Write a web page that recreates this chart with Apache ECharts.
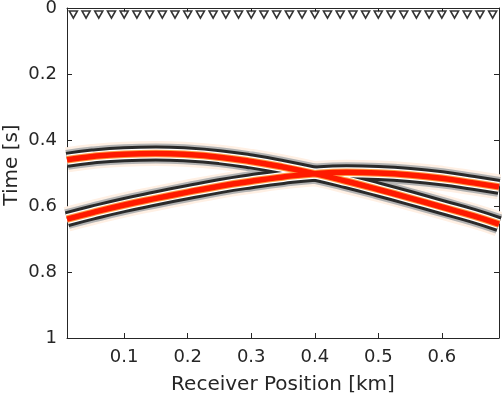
<!DOCTYPE html>
<html>
<head>
<meta charset="utf-8">
<script src="https://cdn.jsdelivr.net/npm/echarts@6/dist/echarts.min.js"></script>
<style>
  html, body { margin: 0; padding: 0; background: #fff; }
  #chart { width: 502px; height: 397px; }
</style>
</head>
<body>
<div id="chart"></div>
<script>
// Receiver offsets (km) where the picked traveltimes were read
const offsets = [0.01, 0.05, 0.10, 0.15, 0.20, 0.25, 0.30, 0.35, 0.40, 0.45, 0.50, 0.55, 0.60, 0.65, 0.69];
// Event A: apex near 0.15 km
const eventA = [0.460, 0.450, 0.443, 0.441, 0.444, 0.452, 0.465, 0.482, 0.502, 0.525, 0.550, 0.576, 0.603, 0.630, 0.655];
// Event B: apex near 0.47 km
const eventB = [0.640, 0.620, 0.597, 0.577, 0.558, 0.540, 0.525, 0.512, 0.502, 0.498, 0.500, 0.506, 0.516, 0.530, 0.542];
// Receiver positions (triangles along the top)
const receivers = [0.02, 0.04, 0.06, 0.08, 0.10, 0.12, 0.14, 0.16, 0.18, 0.20, 0.22, 0.24, 0.26, 0.28, 0.30, 0.32, 0.34,
  0.36, 0.38, 0.40, 0.42, 0.44, 0.46, 0.48, 0.50, 0.52, 0.54, 0.56, 0.58, 0.60, 0.62, 0.64, 0.66, 0.68];
const receiverDepth = 0.02;
const xTicks = [0.1, 0.2, 0.3, 0.4, 0.5, 0.6];

const FONT = "'DejaVu Sans', sans-serif";
const INK = '#262626';

// wavelet drawn as stacked strokes: halo, grey, black lobes, gap, orange rim, red peak
const layers = [
  { w: 25, c: '#fff0e4' },
  { w: 20, c: '#b4b4b4' },
  { w: 16, c: '#2a2a2a' },
  { w: 10, c: '#ffffff' },
  { w: 7.5, c: '#ff9d45' },
  { w: 5.5, c: '#ff1a00' },
];

const events = [eventA, eventB];
const series = [];
layers.forEach((ly, li) => {
  events.forEach((ev) => {
    series.push({
      type: 'line',
      smooth: true,
      symbol: 'none',
      silent: true,
      z: 2 + li,
      data: offsets.map((x, i) => [x, ev[i]]),
      lineStyle: { width: ly.w, color: ly.c, cap: 'butt', join: 'round' },
    });
  });
});

series.push({
  type: 'scatter',
  silent: true,
  z: 20,
  clip: false,
  symbol: 'path://M0,0L10,0L5,9Z',
  symbolSize: [8, 7],
  itemStyle: { color: '#fff', borderColor: '#000', borderWidth: 1.6 },
  data: receivers.map((x) => [x, receiverDepth]),
});

const axisLine = { show: true, onZero: false, lineStyle: { color: INK, width: 1 } };

const chart = echarts.init(document.getElementById('chart'), null, { renderer: 'canvas' });
chart.setOption({
  backgroundColor: '#fff',
  animation: false,
  grid: { left: 67, right: 3, top: 8, bottom: 59, outerBoundsMode: 'none', containLabel: false },
  xAxis: [
    {
      type: 'value',
      position: 'bottom',
      min: 0.01,
      max: 0.69,
      axisLine,
      axisTick: { show: true, inside: true, length: 5, customValues: xTicks, lineStyle: { color: INK } },
      axisLabel: {
        customValues: xTicks,
        formatter: (v) => v.toFixed(1),
        color: INK, fontFamily: FONT, fontSize: 18, margin: 10,
      },
      splitLine: { show: false },
      name: 'Receiver Position [km]',
      nameLocation: 'middle',
      nameGap: 37,
      nameMoveOverlap: false,
      nameTextStyle: { color: INK, fontFamily: FONT, fontSize: 20 },
    },
    {
      type: 'value',
      position: 'top',
      min: 0.01,
      max: 0.69,
      axisLine,
      axisTick: { show: true, inside: true, length: 5, customValues: xTicks, lineStyle: { color: INK } },
      axisLabel: { show: false },
      splitLine: { show: false },
    },
  ],
  yAxis: [
    {
      type: 'value',
      inverse: true,
      min: 0,
      max: 1,
      interval: 0.2,
      axisLine,
      axisTick: { show: true, inside: true, length: 5, lineStyle: { color: INK } },
      axisLabel: { color: INK, fontFamily: FONT, fontSize: 18, margin: 10 },
      splitLine: { show: false },
      name: 'Time [s]',
      nameLocation: 'middle',
      nameGap: 45,
      nameMoveOverlap: false,
      nameTextStyle: { color: INK, fontFamily: FONT, fontSize: 20, padding: [0, 0, 0, 16] },
    },
    {
      type: 'value',
      position: 'right',
      inverse: true,
      min: 0,
      max: 1,
      interval: 0.2,
      axisLine,
      axisTick: { show: true, inside: true, length: 5, lineStyle: { color: INK } },
      axisLabel: { show: false },
      splitLine: { show: false },
    },
  ],
  series,
});
</script>
</body>
</html>
